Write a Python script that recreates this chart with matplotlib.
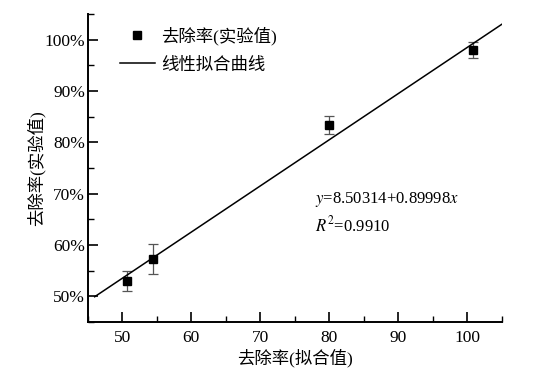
import matplotlib
matplotlib.use("Agg")
import matplotlib.pyplot as plt
import numpy as np
from matplotlib.ticker import MultipleLocator, FuncFormatter

# data
fit_x = [50.7, 54.4, 80.0, 100.8]      # 去除率(拟合值)
exp_y = [53.0, 57.3, 83.4, 98.0]       # 去除率(实验值)
err_y = [1.9, 2.9, 1.7, 1.5]
intercept = 8.50314
slope = 0.89998
r2 = 0.9910
line_x = np.array([46.0, 105.0])

fonts = ['Liberation Serif', 'Noto Sans CJK SC']
plt.rcParams['font.family'] = fonts
plt.rcParams['mathtext.fontset'] = 'stix'

fig = plt.figure(figsize=(5.52, 3.70), dpi=100)
ax = fig.add_axes([0.159, 0.13, 0.75, 0.832])

ax.errorbar(fit_x, exp_y, yerr=err_y, fmt='none', ecolor='#555555',
            elinewidth=0.9, capsize=3.5, capthick=0.9)
ax.plot(fit_x, exp_y, linestyle='none', marker='s', markersize=5.5,
        color='black', label='去除率(实验值)')
ax.plot(line_x, intercept + slope * line_x, color='black', linewidth=1.1,
        label='线性拟合曲线')

ax.set_xlim(45, 105)
ax.set_ylim(45, 105)
ax.xaxis.set_major_locator(MultipleLocator(10))
ax.xaxis.set_minor_locator(MultipleLocator(5))
ax.yaxis.set_major_locator(MultipleLocator(10))
ax.yaxis.set_minor_locator(MultipleLocator(5))
ax.set_xticks([50, 60, 70, 80, 90, 100])
ax.set_yticks([50, 60, 70, 80, 90, 100])
ax.yaxis.set_major_formatter(FuncFormatter(lambda v, p: '%d%%' % v))

for s in ['top', 'right']:
    ax.spines[s].set_visible(False)
for s in ['left', 'bottom']:
    ax.spines[s].set_linewidth(1.4)

ax.tick_params(which='major', direction='in', length=7, width=1.2,
               labelsize=12.5, pad=6)
ax.tick_params(axis='y', which='major', pad=2)
ax.tick_params(which='minor', direction='in', length=4, width=1.0)
for lab in ax.get_xticklabels() + ax.get_yticklabels():
    lab.set_family(fonts)

ax.set_xlabel('去除率(拟合值)', fontsize=12.5, labelpad=2, family=fonts)
ax.set_ylabel('去除率(实验值)', fontsize=12.5, labelpad=-1, family=fonts)

ax.text(78, 68.8, r'$y$=8.50314+0.89998$x$', fontsize=12, va='center', family=fonts)
ax.text(78, 63.8, r'$R^2$=%.4f' % r2, fontsize=12, va='center', family=fonts)

leg = ax.legend(loc='upper left', bbox_to_anchor=(0.04, 1.01), frameon=False,
                fontsize=12.5, handlelength=2.0, handletextpad=0.35,
                labelspacing=0.7)
for t in leg.get_texts():
    t.set_family(fonts)

fig.savefig('out.png', dpi=100)
